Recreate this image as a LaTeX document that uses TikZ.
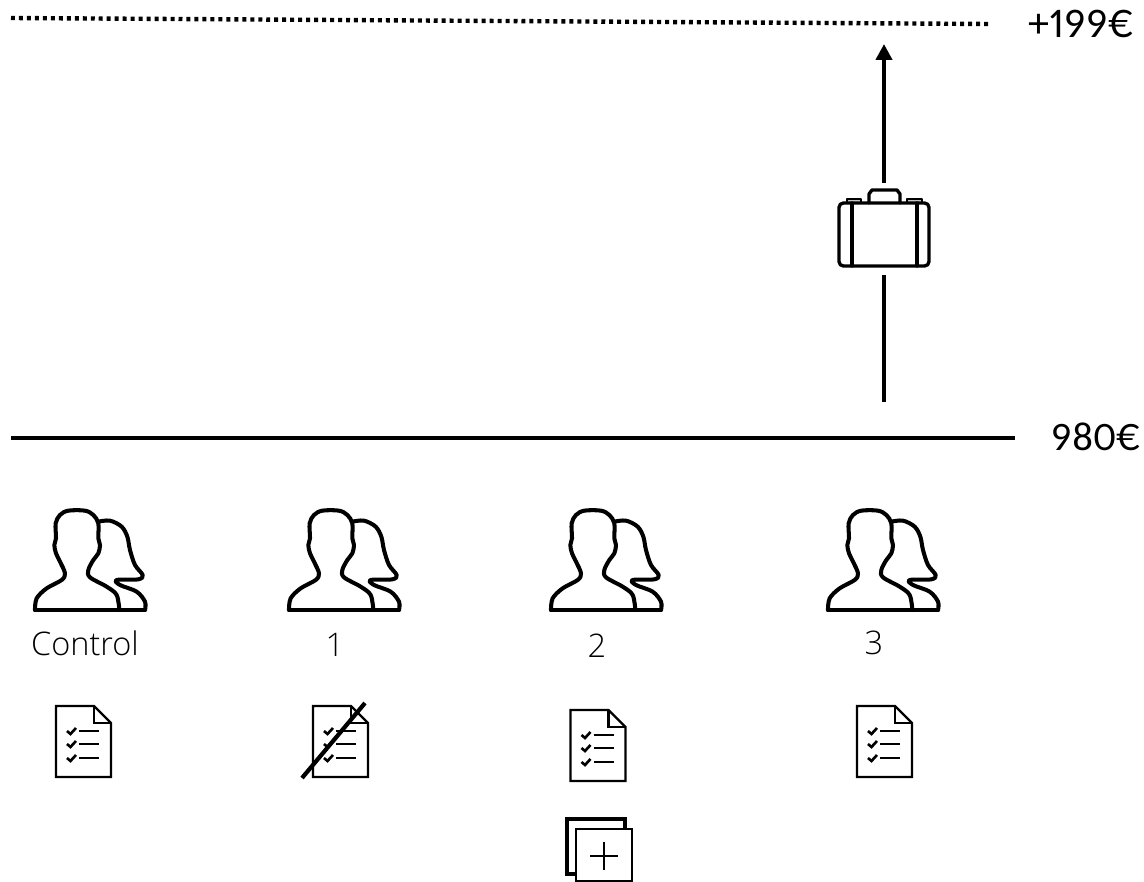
\documentclass[tikz,border=0pt]{standalone}
\usepackage{fontspec}
\setmainfont{Carlito}[Numbers={Lining,Proportional}]
\newfontfamily\thinfont{Open Sans Light}
\usetikzlibrary{arrows.meta}
\tikzset{
  level/.style={line width=2.4pt},
  rise/.style={line width=2.3pt},
  icon/.style={line width=1.9pt, line join=round, line cap=round},
  thin icon/.style={line width=1.4pt, line join=miter},
  amount/.style={font=\fontsize{24}{24}\selectfont, anchor=west, inner sep=0pt},
  group/.style={font=\thinfont\fontsize{18.5}{18.5}\selectfont, inner sep=0pt},
  person/.pic={
    \draw[icon, line width=2.3pt] plot[smooth, tension=0.55] coordinates {(75,360) (80,325) (110,295) (155,270) (165,250) (150,215) (138,190) (133,165) (138,145) (137,100) (150,75) (175,62) (225,62) (250,75) (265,100) (265,145) (270,165) (265,190) (250,210) (235,240) (240,262) (290,290) (320,315) (328,360)};
    \draw[icon, line width=2.3pt] plot[smooth, tension=0.55] coordinates {(265,95) (300,92) (335,110) (352,140) (360,180) (375,225) (398,255) (385,268) (320,270) (330,285) (380,305) (405,335) (405,360)};
    \draw[icon, line width=2.3pt] (75,360) -- (405,360);
  },
  checklist/.pic={
    \draw[thin icon] (0,0) -- (38,0) -- (55,17) -- (55,71) -- (0,71) -- cycle;
    \draw[thin icon] (38,0) -- (38,17) -- (55,17);
    \foreach \row in {25,38,52} {
      \draw[thin icon, line width=1.5pt] (11,\row) -- (14.5,\row+3) -- (20,\row-3);
      \draw[icon, line width=1.4pt, line cap=butt] (23,\row) -- (43,\row);
    }
  },
  briefcase/.pic={
    \draw[icon, fill=gray!45, line width=1.3pt] (847,203) -- (847,199) -- (861,199) -- (861,203);
    \draw[icon, fill=gray!45, line width=1.3pt] (907,203) -- (907,199) -- (922,199) -- (922,203);
    \draw[icon] (869,203) -- (869,194) -- (872,190) -- (897,190) -- (900,194) -- (900,203);
    \draw[icon, rounded corners=2.5pt] (839,203) rectangle (929,266);
    \draw[icon] (852,203) -- (852,266);
    \draw[icon] (917,203) -- (917,266);
  }
}
\begin{document}
\begin{tikzpicture}[x=0.02cm, y=-0.02cm]
  \useasboundingbox (0,0) rectangle (1144,882);

  \node[amount] (top) at (1028,24) {+199€};
  \node[amount, font=\fontsize{23}{23}\selectfont] (base) at (1051,437) {980€};
  \coordinate (topL) at (11,18);
  \coordinate (topR) at (990,24);
  \coordinate (baseL) at (11,438);
  \coordinate (baseR) at (1015,438);
  \draw[line width=2.5pt, dash pattern=on 2.27pt off 2.27pt] (topL) -- (topR);
  \draw[level] (baseL) -- (baseR);

  % trip and its gain
  \node[minimum width=1.8cm, minimum height=1.84cm, inner sep=0pt] (case) at (884,229) {};
  \pic at (0,0) {briefcase};
  \coordinate (start) at (884,402);
  \coordinate (goal) at (884,44);
  \draw[rise] (start) -- (case.south);
  \draw[rise, -{Triangle[length=9pt, width=9pt]}] (case.north) -- (goal);

  % groups
  \pic[scale=1/3] at (10,490) {person};
  \pic[scale=1/3] at (264,490) {person};
  \pic[scale=1/3] at (526,490) {person};
  \pic[scale=1/3] at (803,490) {person};
  \node[group] (G0) at (85,643) {Control};
  \node[group] (G1) at (335,645) {1};
  \node[group] (G2) at (597,646) {2};
  \node[group] (G3) at (874,643) {3};

  % checklists
  \pic at (56,706) {checklist};
  \pic at (313,706) {checklist};
  \pic at (570.5,710) {checklist};
  \pic at (857,706) {checklist};
  \coordinate (strikeA) at (302,778);
  \coordinate (strikeB) at (365,703);
  \draw[line width=2.4pt] (strikeA) -- (strikeB);

  % extra sheet
  \draw[icon, line cap=butt, line join=miter] (567,819) rectangle (625,874);
  \draw[thin icon, fill=white] (576,829) rectangle (632,881);
  \coordinate (plusN) at (604,842);
  \coordinate (plusS) at (604,870);
  \coordinate (plusW) at (590,856);
  \coordinate (plusE) at (618,856);
  \draw[line width=1.1pt] (plusN) -- (plusS);
  \draw[line width=1.1pt] (plusW) -- (plusE);
\end{tikzpicture}
\end{document}
